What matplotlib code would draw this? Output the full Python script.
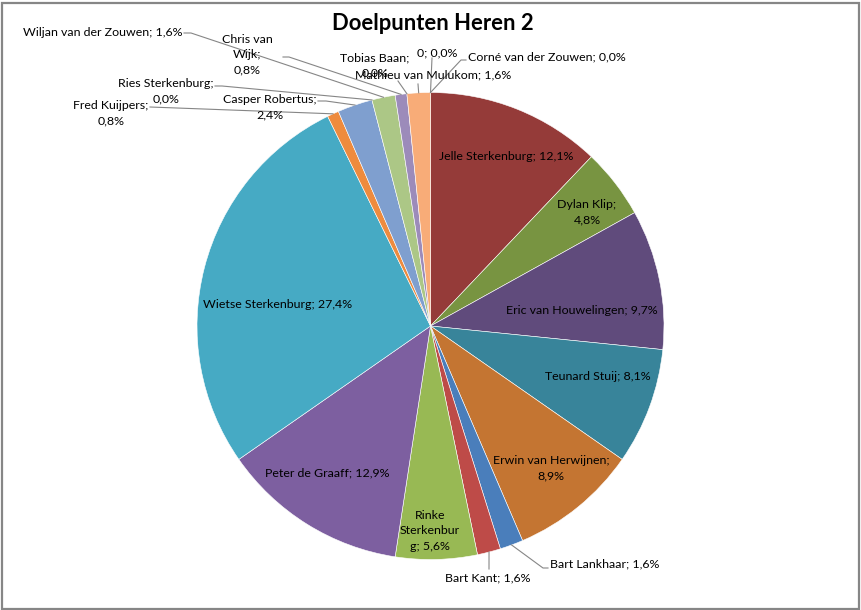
import math

import matplotlib
matplotlib.use("Agg")
import matplotlib.pyplot as plt
from matplotlib.patches import Rectangle

plt.rcParams["font.family"] = ["Lato", "DejaVu Sans"]

# goals per player (out of 124), in pie order clockwise from 12 o'clock
PLAYERS = [
    "Jelle Sterkenburg", "Dylan Klip", "Eric van Houwelingen", "Teunard Stuij",
    "Erwin van Herwijnen", "Bart Lankhaar", "Bart Kant", "Rinke Sterkenburg",
    "Peter de Graaff", "Wietse Sterkenburg", "Fred Kuijpers", "Casper Robertus",
    "Ries Sterkenburg", "Wiljan van der Zouwen", "Chris van Wijk", "Tobias Baan",
    "Mathieu van Mulukom", "0", "Corné van der Zouwen",
]
GOALS = [15, 6, 12, 10, 11, 2, 2, 7, 16, 34, 1, 3, 0, 2, 1, 0, 2, 0, 0]
COLORS = [
    "#953B39", "#789441", "#604B7C", "#38849A", "#C47532", "#4A7EBB",
    "#BE4B48", "#98B954", "#7D5FA0", "#46AAC4", "#EE8B3E", "#7F9FCF",
    "#D08A88", "#ACC786", "#9C8BBA", "#7FC4D8", "#F8AC78", "#2C4D75", "#772C2A",
]
TITLE = "Doelpunten Heren 2"

W, H = 861, 610
CENTER_PX = (430.5, 326)
RADIUS = 233.5
FONT = 8.9


def px(x, y):
    return (x, H - y)


def wrap_label(text, width):
    """Greedy wrap like Excel: long words start a new line and get split."""
    lines, cur = [], ""
    for word in text.split(" "):
        cand = f"{cur} {word}" if cur else word
        if len(cand) <= width:
            cur = cand
            continue
        if cur:
            lines.append(cur)
        while len(word) > width:
            lines.append(word[:width])
            word = word[width:]
        cur = word
    if cur:
        lines.append(cur)
    return "\n".join(lines)


# label layout in pixels: (x, y, ha, wrap width, leader start, leader elbow)
LAYOUT = {
    "Jelle Sterkenburg": (506, 157, "center", None, None, None),
    "Dylan Klip": (587, 212, "center", 11, None, None),
    "Eric van Houwelingen": (582, 311, "center", None, None, None),
    "Teunard Stuij": (598, 376, "center", None, None, None),
    "Erwin van Herwijnen": (551, 468, "center", 20, None, None),
    "Bart Lankhaar": (550, 564, "left", None, (548, 568), (543, 568)),
    "Bart Kant": (488, 578, "center", None, (489, 569), None),
    "Rinke Sterkenburg": (430, 531, "center", 10, None, None),
    "Peter de Graaff": (327, 473, "center", None, None, None),
    "Wietse Sterkenburg": (278, 304, "center", None, None, None),
    "Fred Kuijpers": (111, 113, "center", 14, (150, 107), None),
    "Casper Robertus": (270, 107, "center", 16, (318, 101), (326, 101)),
    "Ries Sterkenburg": (166, 91, "center", 17, (215, 86), (222, 86)),
    "Wiljan van der Zouwen": (103, 32, "center", None, (184, 33), (191, 33)),
    "Chris van Wijk": (247, 55, "center", 9, (283, 57), (289, 57)),
    "Tobias Baan": (375, 65, "center", 12, (398, 81), None),
    "Mathieu van Mulukom": (433, 75, "center", None, (418, 84), None),
    "0": (437, 53, "center", None, (432, 58), None),
    "Corné van der Zouwen": (468, 57, "left", None, (466, 60), (461, 60)),
}

fig = plt.figure(figsize=(W / 100, H / 100), dpi=100)
ax = fig.add_axes([0, 0, 1, 1])

wedges, _ = ax.pie(
    GOALS, colors=COLORS, startangle=90, counterclock=False,
    center=px(*CENTER_PX), radius=RADIUS, frame=True,
    wedgeprops=dict(edgecolor="white", linewidth=0.4),
)
ax.set_xlim(0, W)
ax.set_ylim(0, H)
ax.set_aspect("equal")
ax.axis("off")
for w, g in zip(wedges, GOALS):
    if g == 0:
        w.set_linewidth(0)

total = sum(GOALS)
cx, cy = px(*CENTER_PX)
for name, g, w in zip(PLAYERS, GOALS, wedges):
    x, y, ha, wrap, start, elbow = LAYOUT[name]
    pct = f"{100 * g / total:.1f}".replace(".", ",")
    text = f"{name}; {pct}%"
    if wrap:
        text = wrap_label(text, wrap)
    ax.text(*px(x, y), text, ha=ha, va="center", multialignment="center",
            fontsize=FONT, color="black", linespacing=1.45)
    if start is not None:
        mid = math.radians((w.theta1 + w.theta2) / 2)
        anchor = (cx + RADIUS * math.cos(mid), cy + RADIUS * math.sin(mid))
        pts = [px(*start)]
        if elbow is not None:
            pts.append(px(*elbow))
        pts.append(anchor)
        ax.plot([p[0] for p in pts], [p[1] for p in pts],
                color="#868686", linewidth=0.8)

ax.text(*px(433, 24), TITLE, ha="center", va="center",
        fontsize=15.8, fontweight="bold")

fig.patches.append(Rectangle((1.5 / W, 1.5 / H), (W - 4) / W, (H - 4) / H,
                             transform=fig.transFigure, fill=False,
                             edgecolor="#868686", linewidth=1.6))

fig.savefig("out.png", dpi=100)
